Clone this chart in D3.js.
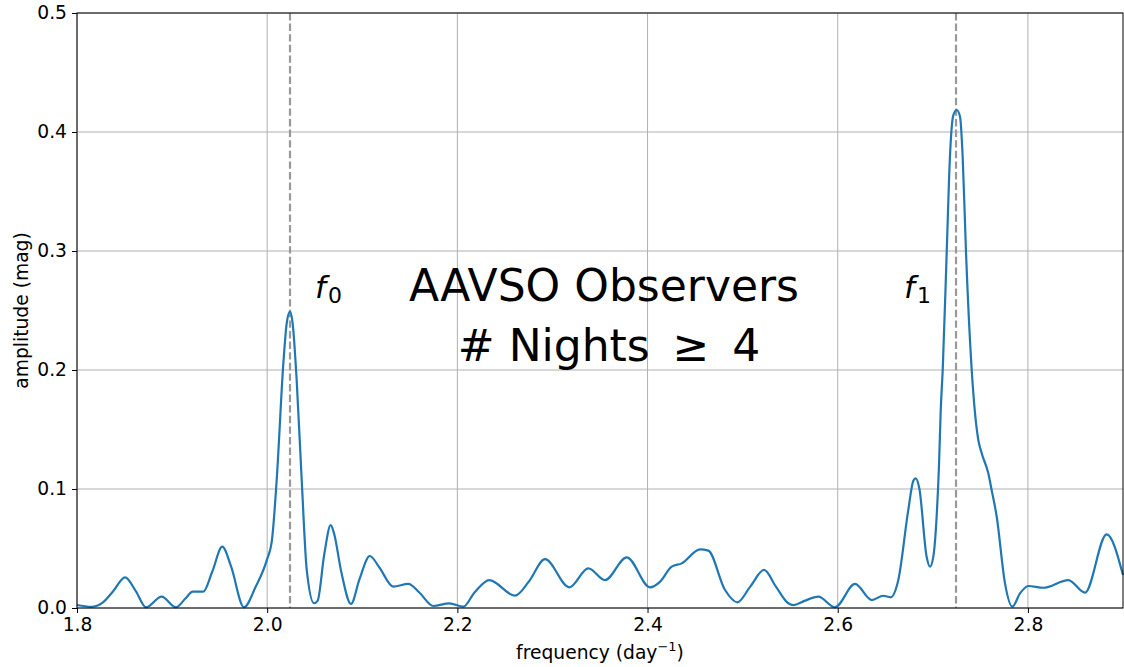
<!DOCTYPE html>
<html>
<head>
<meta charset="utf-8">
<script src="https://cdn.jsdelivr.net/npm/d3@7"></script>
<style>
  html, body { margin: 0; padding: 0; background: #fff; }
  svg { display: block; font-family: "DejaVu Sans", sans-serif; }
</style>
</head>
<body>
<svg id="chart" width="1124" height="667"></svg>
<script>
const freq = [1.800,1.815,1.827,1.838,1.8505,1.862,1.8726,1.889,1.904,1.914,1.9217,1.9328,1.942,1.9528,1.962,1.9756,1.988,1.9995,2.005,2.010,2.017,2.0205,2.024,2.0268,2.031,2.0363,2.0416,2.0492,2.053,2.060,2.0668,2.0703,2.078,2.0882,2.097,2.108,2.118,2.1326,2.1484,2.160,2.1747,2.1915,2.2063,2.218,2.2336,2.2606,2.275,2.2922,2.3177,2.3377,2.3553,2.3781,2.4026,2.413,2.4254,2.4359,2.4552,2.4639,2.4815,2.4944,2.508,2.5225,2.535,2.548,2.5533,2.565,2.5796,2.5971,2.6182,2.6357,2.6479,2.6557,2.6637,2.6742,2.6795,2.682,2.6858,2.6935,2.697,2.7005,2.704,2.7065,2.7083,2.7104,2.7146,2.718,2.7215,2.7251,2.7286,2.7314,2.7349,2.7409,2.7444,2.7479,2.7514,2.7584,2.7619,2.7672,2.7759,2.7836,2.7917,2.8004,2.8162,2.8425,2.86,2.8828,2.9];
const amplitude = [0.0025,0.001,0.0045,0.014,0.0258,0.014,0.0006,0.0095,0.0006,0.008,0.0137,0.0137,0.030,0.0515,0.035,0.0006,0.018,0.040,0.057,0.1076,0.2056,0.239,0.249,0.239,0.1916,0.1076,0.032,0.004,0.006,0.045,0.0697,0.0627,0.030,0.0034,0.024,0.0437,0.034,0.018,0.0202,0.013,0.0017,0.0039,0.0011,0.013,0.0235,0.0104,0.022,0.041,0.0174,0.0333,0.0235,0.0426,0.0174,0.022,0.0347,0.0375,0.0493,0.0482,0.0151,0.0048,0.018,0.032,0.018,0.004,0.0025,0.006,0.0095,0.0006,0.0202,0.0067,0.0103,0.009,0.0235,0.0824,0.107,0.109,0.1006,0.043,0.0347,0.043,0.0767,0.12,0.166,0.2,0.299,0.379,0.414,0.4185,0.413,0.379,0.299,0.2,0.1636,0.141,0.130,0.113,0.099,0.0767,0.0207,0.0011,0.0123,0.0185,0.017,0.0235,0.0129,0.0619,0.0277];
const markerFreqs = [2.024, 2.7244];
const markerLabels = ["0", "1"];
const xTicks = [1.8, 2.0, 2.2, 2.4, 2.6, 2.8];
const yTicks = [0.0, 0.1, 0.2, 0.3, 0.4, 0.5];
const titleLines = ["AAVSO Observers", "# Nights \u2009\u2265\u2009 4"];

const svg = d3.select("#chart");
const m = {left: 77, top: 13, right: 1, bottom: 59};
const W = 1124 - m.left - m.right, H = 667 - m.top - m.bottom;
const g = svg.append("g").attr("transform", `translate(${m.left},${m.top})`);

const x = d3.scaleLinear().domain([1.8, 2.9]).range([0, W]);
const y = d3.scaleLinear().domain([0, 0.5]).range([H, 0]);

// grid
g.append("g").selectAll("line").data(xTicks).join("line")
  .attr("x1", d => x(d)).attr("x2", d => x(d)).attr("y1", 0).attr("y2", H)
  .attr("stroke", "#b0b0b0").attr("stroke-width", 1);
g.append("g").selectAll("line").data(yTicks).join("line")
  .attr("y1", d => y(d)).attr("y2", d => y(d)).attr("x1", 0).attr("x2", W)
  .attr("stroke", "#b0b0b0").attr("stroke-width", 1);

// marker lines
g.append("g").selectAll("line").data(markerFreqs).join("line")
  .attr("x1", d => x(d)).attr("x2", d => x(d)).attr("y1", 0).attr("y2", H)
  .attr("stroke", "#999999").attr("stroke-width", 2.2).attr("stroke-dasharray", "7.4,3.2");

// curve
const data = freq.map((f, i) => [f, amplitude[i]]);
g.append("path").datum(data)
  .attr("fill", "none").attr("stroke", "#1f77b4").attr("stroke-width", 2.2)
  .attr("stroke-linejoin", "round")
  .attr("d", d3.line().x(d => x(d[0])).y(d => y(d[1])).curve(d3.curveMonotoneX));

// axes
const xAxis = g.append("g").attr("transform", `translate(0,${H})`)
  .call(d3.axisBottom(x).tickValues(xTicks).tickFormat(d3.format(".1f")).tickSizeOuter(0).tickSize(5).tickPadding(5));
const yAxis = g.append("g")
  .call(d3.axisLeft(y).tickValues(yTicks).tickFormat(d3.format(".1f")).tickSizeOuter(0).tickSize(5).tickPadding(5));
[xAxis, yAxis].forEach(a => {
  a.select(".domain").remove();
  a.selectAll("text").attr("font-size", "18.7px").attr("fill", "#000").attr("font-family", "DejaVu Sans");
  a.selectAll("line").attr("stroke", "#000");
});

// frame
g.append("rect").attr("x", 0).attr("y", 0).attr("width", W).attr("height", H)
  .attr("fill", "none").attr("stroke", "#000").attr("stroke-width", 1);

// axis labels
const xl = svg.append("text").attr("x", m.left + W / 2).attr("y", 659)
  .attr("text-anchor", "middle").attr("font-size", "18.7px");
xl.append("tspan").text("frequency (day");
xl.append("tspan").text("\u22121").attr("font-size", "13px").attr("dy", -8);
xl.append("tspan").text(")").attr("dy", 8);

svg.append("text").attr("transform", `translate(28,${m.top + H / 2}) rotate(-90)`)
  .attr("text-anchor", "middle").attr("font-size", "18.7px").text("amplitude (mag)");

// title text
svg.append("text").attr("x", 604).attr("y", 301).attr("text-anchor", "middle")
  .attr("font-size", "44px").text(titleLines[0]);
svg.append("text").attr("x", 609).attr("y", 361).attr("text-anchor", "middle")
  .attr("font-size", "44px").attr("xml:space", "preserve").text(titleLines[1]);

// f labels
const fLabelX = [315, 904];
markerLabels.forEach((s, i) => {
  const t = svg.append("text").attr("x", fLabelX[i]).attr("y", 298).attr("font-size", "31px");
  t.append("tspan").text("f").attr("font-style", "italic");
  t.append("tspan").text(s).attr("font-size", "22px").attr("dy", 5).attr("dx", 2);
});
</script>
</body>
</html>
